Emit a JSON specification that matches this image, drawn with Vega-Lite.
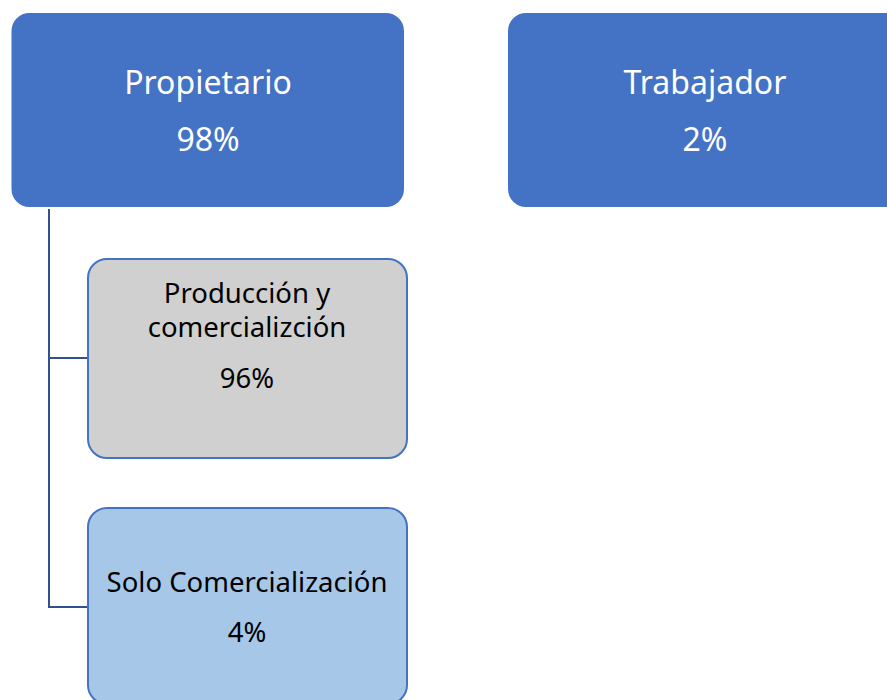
{
  "$schema": "https://vega.github.io/schema/vega-lite/v6.json",
  "width": 887,
  "height": 700,
  "padding": 0,
  "autosize": "none",
  "background": "white",
  "config": {"view": {"stroke": null}},
  "datasets": {
    "links": [
      {"x": 49, "y": 208, "x2": 49, "y2": 607},
      {"x": 48, "y": 358, "x2": 88, "y2": 358},
      {"x": 48, "y": 607, "x2": 88, "y2": 607}
    ],
    "nodes": [
      {"name": "Propietario", "kind": "top", "x": 10.5, "x2": 405, "y": 12, "y2": 208},
      {"name": "Trabajador", "kind": "top", "x": 507, "x2": 960, "y": 12, "y2": 208},
      {"name": "Producción y comercializción", "kind": "sub1", "x": 88, "x2": 407, "y": 259, "y2": 458},
      {"name": "Solo Comercialización", "kind": "sub2", "x": 88, "x2": 407, "y": 508, "y2": 704}
    ],
    "labels": [
      {"text": "Propietario", "kind": "top", "size": "big", "x": 208, "y": 84},
      {"text": "98%", "kind": "top", "size": "big", "x": 208, "y": 141},
      {"text": "Trabajador", "kind": "top", "size": "big", "x": 705, "y": 84},
      {"text": "2%", "kind": "top", "size": "big", "x": 705, "y": 141},
      {"text": "Producción y", "kind": "sub1", "size": "small", "x": 247, "y": 295},
      {"text": "comercializción", "kind": "sub1", "size": "small", "x": 247, "y": 329},
      {"text": "96%", "kind": "sub1", "size": "small", "x": 247, "y": 380},
      {"text": "Solo Comercialización", "kind": "sub2", "size": "small", "x": 247, "y": 584},
      {"text": "4%", "kind": "sub2", "size": "small", "x": 247, "y": 634}
    ]
  },
  "layer": [
    {
      "data": {"name": "links"},
      "mark": {"type": "rule", "strokeWidth": 2, "color": "#2F528F", "clip": true},
      "encoding": {
        "x": {"field": "x", "type": "quantitative", "scale": {"domain": [0, 887], "nice": false, "zero": false}, "axis": null},
        "y": {"field": "y", "type": "quantitative", "scale": {"domain": [0, 700], "nice": false, "zero": false, "reverse": true}, "axis": null},
        "x2": {"field": "x2"},
        "y2": {"field": "y2"}
      }
    },
    {
      "data": {"name": "nodes"},
      "mark": {"type": "rect", "cornerRadius": 19, "strokeWidth": 2, "clip": true},
      "encoding": {
        "x": {"field": "x", "type": "quantitative", "scale": {"domain": [0, 887], "nice": false, "zero": false}, "axis": null},
        "y": {"field": "y", "type": "quantitative", "scale": {"domain": [0, 700], "nice": false, "zero": false, "reverse": true}, "axis": null},
        "x2": {"field": "x2"},
        "y2": {"field": "y2"},
        "fill": {"field": "kind", "type": "nominal", "scale": {"domain": ["top", "sub1", "sub2"], "range": ["#4472C4", "#D0D0D0", "#A6C7E8"]}, "legend": null},
        "stroke": {"field": "kind", "type": "nominal", "scale": {"domain": ["top", "sub1", "sub2"], "range": ["#FFFFFF", "#4472C4", "#4472C4"]}, "legend": null},
        "opacity": {"value": 1}
      }
    },
    {
      "data": {"name": "labels"},
      "mark": {"type": "text", "font": "Noto Sans", "baseline": "middle", "align": "center"},
      "encoding": {
        "x": {"field": "x", "type": "quantitative", "scale": {"domain": [0, 887], "nice": false, "zero": false}, "axis": null},
        "y": {"field": "y", "type": "quantitative", "scale": {"domain": [0, 700], "nice": false, "zero": false, "reverse": true}, "axis": null},
        "text": {"field": "text"},
        "color": {"field": "kind", "type": "nominal", "scale": {"domain": ["top", "sub1", "sub2"], "range": ["#FFFFFF", "#000000", "#000000"]}, "legend": null},
        "size": {"field": "size", "type": "nominal", "scale": {"domain": ["big", "small"], "range": [32, 27.5]}, "legend": null}
      }
    }
  ]
}
